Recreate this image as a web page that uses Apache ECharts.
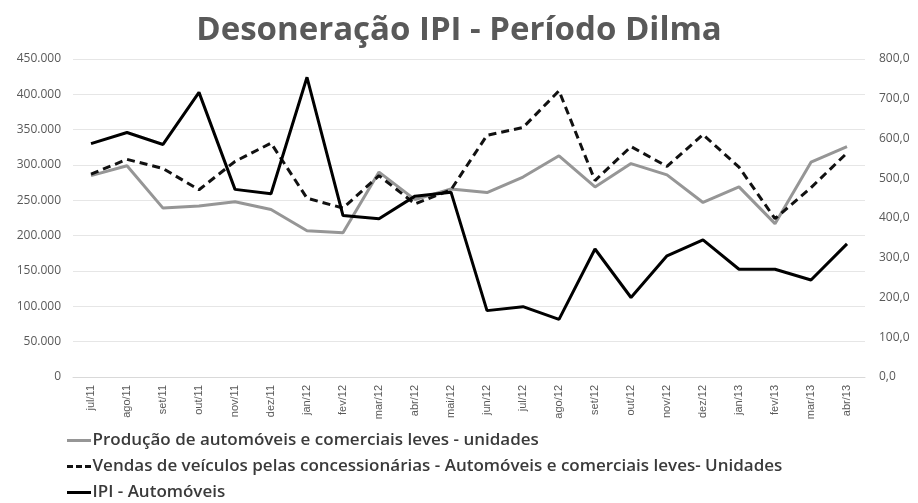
<!DOCTYPE html>
<html>
<head>
<meta charset="utf-8">
<script src="https://cdn.jsdelivr.net/npm/echarts@6/dist/echarts.min.js"></script>
<style>html,body{margin:0;padding:0;background:#fff}#c{width:918px;height:503px}</style>
</head>
<body>
<div id="c"></div>
<script>
var categories = ['jul/11','ago/11','set/11','out/11','nov/11','dez/11','jan/12','fev/12','mar/12','abr/12','mai/12','jun/12','jul/12','ago/12','set/12','out/12','nov/12','dez/12','jan/13','fev/13','mar/13','abr/13'];
var producao = [285000,299000,239000,242000,248000,237000,207000,204000,290000,251000,266000,261000,283000,313000,269000,302000,286000,247000,269000,217000,304000,326000];
var vendas = [287000,308000,295000,265000,305000,331000,253000,239000,285000,245000,265000,342000,353000,405000,278000,326000,298000,343000,297000,224000,268000,317000];
var ipi = [587,615,585,716,472,461,754,406,398,455,465,167,177,145,322,200,305,345,271,271,244,335];
var leftTicks = {min:0, max:450000, interval:50000};
var rightTicks = {min:0, max:800, interval:100};
var names = ['Produção de automóveis e comerciais leves - unidades','Vendas de veículos pelas concessionárias - Automóveis e comerciais leves- Unidades','IPI - Automóveis'];

var fmtL = function(v){ return v === 0 ? '0' : (v/1000).toFixed(0) + '.000'; };
var fmtR = function(v){ return v.toFixed(1).replace('.', ','); };

var solidIcon = 'path://M0,0H24V3H0Z';
var dashIcon = 'path://M0,0H6V3H0Z M9,0H15V3H9Z M18,0H24V3H18Z';

var chart = echarts.init(document.getElementById('c'));
chart.setOption({
  animation:false,
  title:{text:'Desoneração IPI - Período Dilma', left:'center', top:9,
    textStyle:{fontFamily:'Open Sans', fontSize:33, fontWeight:'bold', color:'#595959'}},
  grid:{left:73, right:53, top:59, bottom:126},
  legend:{orient:'vertical', left:62, top:427, height:80, itemWidth:25, itemHeight:3, itemGap:9,
    textStyle:{fontFamily:'Open Sans', fontSize:17, fontWeight:600, color:'#3a3a3a', padding:[0,0,0,-4]},
    data:[{name:names[0], icon:solidIcon},{name:names[1], icon:dashIcon},{name:names[2], icon:solidIcon}]},
  xAxis:{type:'category', data:categories, boundaryGap:true,
    axisLine:{lineStyle:{color:'#d9d9d9'}}, axisTick:{show:false},
    axisLabel:{rotate:90, color:'#595959', fontFamily:'Liberation Sans', fontSize:11, interval:0, margin:8}},
  yAxis:[
    {type:'value', min:leftTicks.min, max:leftTicks.max, interval:leftTicks.interval,
      axisLabel:{formatter:fmtL, color:'#595959', fontFamily:'Open Sans', fontSize:12, margin:12},
      splitLine:{lineStyle:{color:'#e6e6e6'}}, axisLine:{show:false}, axisTick:{show:false}},
    {type:'value', min:rightTicks.min, max:rightTicks.max, interval:rightTicks.interval,
      axisLabel:{formatter:fmtR, color:'#595959', fontFamily:'Open Sans', fontSize:12, margin:14},
      splitLine:{show:false}, axisLine:{show:false}, axisTick:{show:false}}
  ],
  series:[
    {name:names[0], type:'line', yAxisIndex:0, data:producao, symbol:'none',
      lineStyle:{color:'#969696', width:3}, itemStyle:{color:'#969696'}},
    {name:names[1], type:'line', yAxisIndex:0, data:vendas, symbol:'none',
      lineStyle:{color:'#111', width:3, type:[8,5]}, itemStyle:{color:'#111'}},
    {name:names[2], type:'line', yAxisIndex:1, data:ipi, symbol:'none',
      lineStyle:{color:'#000', width:3}, itemStyle:{color:'#000'}}
  ]
});
</script>
</body>
</html>
